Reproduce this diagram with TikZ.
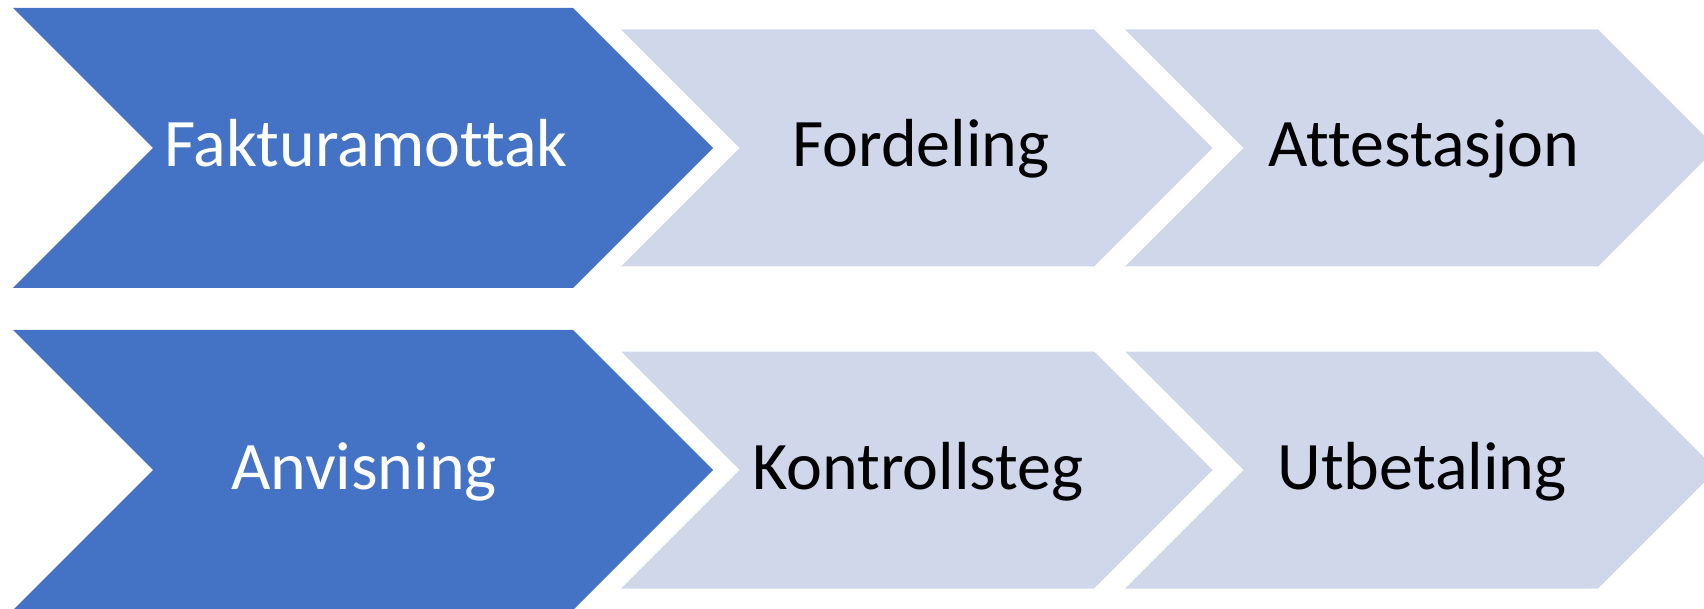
\documentclass[tikz,border=0pt]{standalone}
\usepackage{fontspec}
\setmainfont[Ligatures={NoCommon}]{Carlito}
\definecolor{darkchev}{HTML}{4472C4}
\definecolor{lightchev}{HTML}{D0D7EB}
\newcommand{\chevshape}[6]{% left, unused, topright, top, bottom, fill
  \fill[#6] (#1,#4) -- (#3,#4) -- ({#3+(#5-#4)/2},{(#4+#5)/2}) -- (#3,#5) -- (#1,#5) -- ({#1+(#5-#4)/2},{(#4+#5)/2}) -- cycle;}
\tikzset{
  labeltext/.style={font=\fontsize{68}{80}\selectfont, anchor=base, inner sep=0pt},
  darklabel/.style={labeltext, text=white},
  lightlabel/.style={labeltext, text=black}
}
\begin{document}
\begin{tikzpicture}[x=1pt,y=-1pt]
\useasboundingbox (0,0) rectangle (1704,609);
\clip (0,0) rectangle (1704,609);
% row 1
\chevshape{13}{0}{573}{8}{288}{darkchev}
\chevshape{621}{0}{1094}{29.5}{266.5}{lightchev}
\chevshape{1125}{0}{1598}{29.5}{266.5}{lightchev}
% row 2
\chevshape{13}{0}{573}{330}{610}{darkchev}
\chevshape{621}{0}{1094}{351.5}{588.5}{lightchev}
\chevshape{1125}{0}{1598}{351.5}{588.5}{lightchev}
% labels
\node[darklabel] (fakturamottak) at (366,167) {Fakturamottak};
\node[lightlabel] (fordeling) at (921,167) {Fordeling};
\node[lightlabel] (attestasjon) at (1424,167) {Attestasjon};
\node[darklabel] (anvisning) at (364,489) {Anvisning};
\node[lightlabel] (kontrollsteg) at (918,489) {Kontrollsteg};
\node[lightlabel] (utbetaling) at (1422,489) {Utbetaling};
\end{tikzpicture}
\end{document}
